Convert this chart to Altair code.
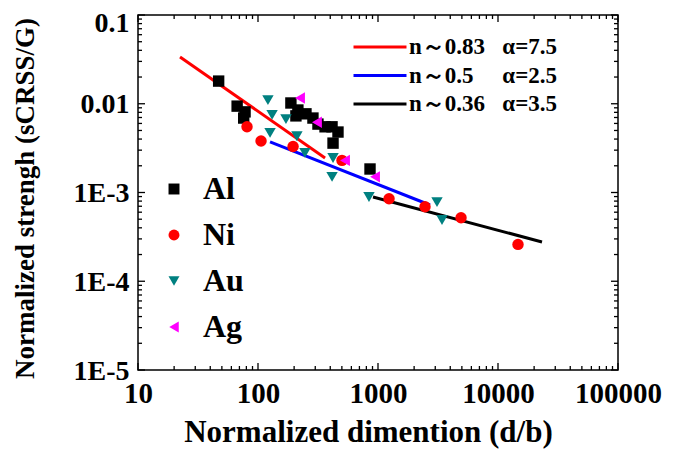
import altair as alt
import pandas as pd

# ---------------- data ----------------
series = ["Al", "Ni", "Au", "Ag"]
series_colors = ["#000000", "#ff0000", "#008080", "#ff00ff"]
series_shapes = ["square", "circle", "triangle-down", "triangle-left"]

al_x = [47, 67, 78, 76, 188, 215, 207, 251, 287, 316, 362, 414, 464, 422, 858]
al_y = [0.0180, 0.0094, 0.0081, 0.0069, 0.0102, 0.0085, 0.0073, 0.0077, 0.0069,
        0.0059, 0.0055, 0.0055, 0.0048, 0.0036, 0.00184]

ni_x = [81, 106, 196, 501, 1236, 2465, 4920, 14678]
ni_y = [0.0055, 0.0038, 0.0033, 0.0023, 0.00085, 0.00069, 0.00052, 0.00026]

au_x = [121, 131, 171, 126, 211, 246, 422, 414, 841, 3102, 3415]
au_y = [0.0110, 0.0075, 0.0067, 0.0047, 0.0043, 0.0028, 0.00245, 0.0015,
        0.00089, 0.00078, 0.00049]

ag_x = [224, 310, 531, 944]
ag_y = [0.0116, 0.0062, 0.0023, 0.0015]

fit_labels = ["n～0.83\u00a0\u00a0\u00a0α=7.5",
              "n～0.5\u00a0\u00a0\u00a0\u00a0\u00a0α=2.5",
              "n～0.36\u00a0\u00a0\u00a0α=3.5"]
fit_colors = ["#ff0000", "#0000ff", "#000000"]
red_x = [22.4, 362]
red_y = [0.0336, 0.00245]
blue_x = [126, 2712]
blue_y = [0.00371, 0.000723]
black_x = [909, 23270]
black_y = [0.00089, 0.000277]

x_major = [10, 100, 1000, 10000, 100000]
x_tick_labels = ["10", "100", "1000", "10000", "100000"]
y_major = [1e-5, 1e-4, 1e-3, 1e-2, 1e-1]
y_tick_labels = ["1E-5", "1E-4", "1E-3", "0.01", "0.1"]
x_minor = [k * 10 ** d for d in range(1, 5) for k in range(2, 10)]
y_minor = [k * 10.0 ** d for d in range(-5, -1) for k in range(2, 10)]

# ---------------- tables ----------------
pts = []
for name, xs, ys in [("Al", al_x, al_y), ("Ni", ni_x, ni_y),
                     ("Au", au_x, au_y), ("Ag", ag_x, ag_y)]:
    for a, b in zip(xs, ys):
        pts.append({"s": name, "x": a, "y": b})
pts_df = pd.DataFrame(pts)

lns = []
for name, xs, ys in [(fit_labels[0], red_x, red_y), (fit_labels[1], blue_x, blue_y),
                     (fit_labels[2], black_x, black_y)]:
    for a, b in zip(xs, ys):
        lns.append({"fit": name, "x": a, "y": b})
lns_df = pd.DataFrame(lns)

W, H = 480, 355
FONT = "Liberation Serif"


def label_expr(vals, labels):
    expr = "'" + labels[-1] + "'"
    for i in range(len(vals) - 2, -1, -1):
        cut = (vals[i] * vals[i + 1]) ** 0.5
        expr = f"datum.value < {cut} ? '{labels[i]}' : ({expr})"
    return expr


x_scale = alt.Scale(type="log", domain=[10, 100000], nice=False)
y_scale = alt.Scale(type="log", domain=[1e-5, 0.1], nice=False)

x_axis = alt.Axis(values=x_major, labelExpr=label_expr(x_major, x_tick_labels),
                  ticks=False, domain=False, grid=False, labelFont=FONT,
                  labelFontSize=29, labelFontWeight="bold", labelColor="black",
                  labelPadding=9, labelFlush=False, labelOverlap=False,
                  title="Normalized dimention (d/b)", titleFont=FONT,
                  titleFontSize=31, titleFontWeight="bold", titleColor="black",
                  titleX=230, titleY=62, titleBaseline="middle", titleAlign="center")
y_axis = alt.Axis(values=y_major, labelExpr=label_expr(y_major, y_tick_labels),
                  ticks=False, domain=False, grid=False, labelFont=FONT,
                  labelFontSize=28, labelFontWeight="bold", labelColor="black",
                  labelPadding=9, labelFlush=False, labelOverlap=False,
                  labelBaseline="middle",
                  labelOffset={"condition": {"test": "datum.value > 0.05", "value": 8},
                               "value": 1},
                  title="Normalized strengh (sCRSS/G)", titleFont=FONT,
                  titleFontSize=27, titleFontWeight="bold", titleColor="black",
                  titleAngle=270, titleX=-113, titleY=183,
                  titleBaseline="middle", titleAlign="center")

X = lambda f: alt.X(f, scale=x_scale, axis=x_axis)
Y = lambda f: alt.Y(f, scale=y_scale, axis=y_axis)

pt_legend = alt.Legend(orient="none", legendX=20, legendY=158, title=None,
                       labelFont=FONT, labelFontSize=32, labelFontWeight="bold",
                       labelColor="black", symbolSize=120, rowPadding=14,
                       labelOffset=13)
ln_legend = alt.Legend(orient="none", legendX=227, legendY=17, title=None,
                       labelFont=FONT, labelFontSize=23, labelFontWeight="bold",
                       labelColor="black", symbolType="M-2,0H2", symbolSize=702,
                       symbolStrokeWidth=3, rowPadding=1.5, labelOffset=14)

lines = alt.Chart(lns_df).mark_line(strokeWidth=3, clip=True).encode(
    x=X("x:Q"), y=Y("y:Q"),
    stroke=alt.Stroke("fit:N", scale=alt.Scale(domain=fit_labels, range=fit_colors),
                      legend=ln_legend),
)

points = alt.Chart(pts_df).mark_point(filled=True, size=130, opacity=1).encode(
    x=X("x:Q"), y=Y("y:Q"),
    fill=alt.Fill("s:N", scale=alt.Scale(domain=series, range=series_colors),
                  legend=pt_legend),
    shape=alt.Shape("s:N", scale=alt.Scale(domain=series, range=series_shapes),
                    legend=pt_legend),
)


def ticks(vals, side, length):
    df = pd.DataFrame({"v": vals})
    m = alt.Chart(df).mark_rule(color="black", strokeWidth=1.3)
    if side == "bottom":
        return m.encode(x=X("v:Q"), y=alt.value(H), y2=alt.value(H - length))
    if side == "top":
        return m.encode(x=X("v:Q"), y=alt.value(0), y2=alt.value(length))
    if side == "left":
        return m.encode(y=Y("v:Q"), x=alt.value(0), x2=alt.value(length))
    return m.encode(y=Y("v:Q"), x=alt.value(W), x2=alt.value(W - length))


tick_layers = []
for side in ["bottom", "top"]:
    tick_layers.append(ticks(x_major, side, 7))
    tick_layers.append(ticks(x_minor, side, 4))
for side in ["left", "right"]:
    tick_layers.append(ticks(y_major, side, 7))
    tick_layers.append(ticks(y_minor, side, 4))

chart = alt.layer(*tick_layers, lines, points).properties(
    width=W, height=H,
    autosize=alt.AutoSizeParams(type="none"),
    padding={"left": 130, "top": 7, "right": 49, "bottom": 86},
    background="white",
).configure_view(stroke="black", strokeWidth=1.5)

chart.save("out.html", embed_options={"renderer": "svg", "actions": False})
